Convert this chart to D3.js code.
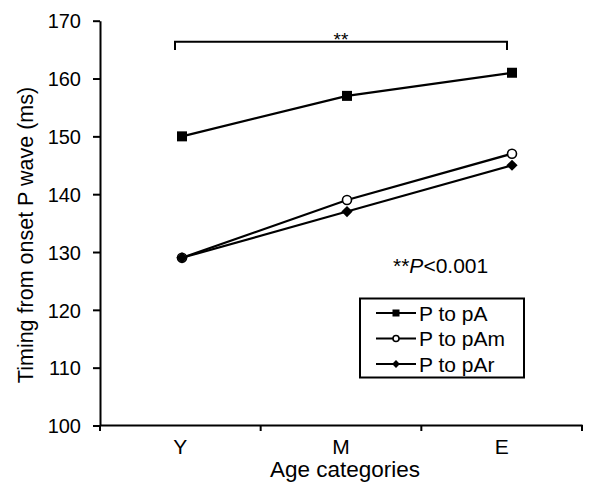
<!DOCTYPE html>
<html>
<head>
<meta charset="utf-8">
<script src="https://cdn.jsdelivr.net/npm/d3@7"></script>
<style>
	body { margin: 0; background: white; }
	text { font-family: "Liberation Sans", Arial, sans-serif; fill: black; }
</style>
</head>
<body>
<div></div>
<script>
var categories = ['Y', 'M', 'E'];
var series_names = ['P to pA', 'P to pAm', 'P to pAr'];
var p_to_pA = [150, 157, 161];
var p_to_pAm = [129, 139, 147];
var p_to_pAr = [129, 137, 145];
var y_ticks = [100, 110, 120, 130, 140, 150, 160, 170];

function draw_chart() {
	var width = 597;
	var height = 491;

	var svg = d3.select('div')
		.append('svg')
			.attr('width', width)
			.attr('height', height);

	// scales
	var y = d3.scaleLinear()
		.domain([100, 170])
		.range([425.5, 20.7]);
	var x_band = d3.scaleBand()
		.domain(categories)
		.range([100, 582]);
	var x = d3.scalePoint()
		.domain(categories)
		.range([182, 512]);

	// y axis
	var y_axis = svg.append('g')
		.attr('transform', 'translate(100,0)')
		.call(d3.axisLeft(y).tickValues(y_ticks).tickSize(7).tickPadding(12).tickSizeOuter(0));
	y_axis.select('.domain').attr('stroke-width', 2);
	y_axis.selectAll('.tick line').attr('stroke-width', 2);
	y_axis.selectAll('.tick text')
		.style('font-size', '20px')
		.attr('dy', '0.36em');

	// x axis (labels)
	var x_axis = svg.append('g')
		.attr('transform', 'translate(0,425)')
		.call(d3.axisBottom(x_band).tickSize(0).tickPadding(14));
	x_axis.select('.domain').attr('stroke-width', 2);
	x_axis.selectAll('.tick text')
		.style('font-size', '21px');

	// x axis ticks at category edges
	var edges = categories.map(function(d) { return x_band(d); }).concat([x_band.range()[1]]);
	svg.append('g')
		.selectAll('line')
		.data(edges)
		.enter()
		.append('line')
			.attr('x1', function(d) { return d; })
			.attr('x2', function(d) { return d; })
			.attr('y1', 425)
			.attr('y2', 431)
			.attr('stroke', 'black')
			.attr('stroke-width', 2);

	// axis labels
	svg.append('text')
		.attr('text-anchor', 'middle')
		.attr('x', 345)
		.attr('y', 477)
		.style('font-size', '22.5px')
		.text('Age categories');
	svg.append('text')
		.attr('text-anchor', 'middle')
		.attr('transform', 'translate(33,235) rotate(-90)')
		.style('font-size', '21.5px')
		.text('Timing from onset P wave (ms)');

	// lines
	var data = [p_to_pA, p_to_pAm, p_to_pAr];
	var line = d3.line()
		.x(function(d, i) { return x(categories[i]); })
		.y(function(d) { return y(d); });
	svg.append('g')
		.selectAll('path')
		.data(data)
		.enter()
		.append('path')
			.attr('d', line)
			.attr('fill', 'none')
			.attr('stroke', 'black')
			.attr('stroke-width', 2.2);

	// markers
	var draw_marker = function(g, type, cx, cy, s) {
		if (type == 0) {
			g.append('rect')
				.attr('x', cx - s / 2)
				.attr('y', cy - s / 2)
				.attr('width', s)
				.attr('height', s)
				.attr('fill', 'black');
		} else if (type == 1) {
			g.append('circle')
				.attr('cx', cx)
				.attr('cy', cy)
				.attr('r', s / 2)
				.attr('fill', 'white')
				.attr('stroke', 'black')
				.attr('stroke-width', 1.6);
		} else {
			g.append('path')
				.attr('d', d3.symbol(d3.symbolDiamond2, s * s * 0.8)())
				.attr('transform', 'translate(' + cx + ',' + cy + ')')
				.attr('fill', 'black');
		}
	};
	var marks = svg.append('g');
	// pAm first, then pAr over it, then pA
	[1, 2, 0].forEach(function(k) {
		data[k].forEach(function(v, i) {
			draw_marker(marks, k, x(categories[i]), y(v), k == 1 ? 9 : 10);
		});
	});

	// significance bracket
	var bx1 = x('Y') - 7;
	var bx2 = x('E') - 5;
	svg.append('path')
		.attr('d', 'M' + bx1 + ',50V41.7H' + bx2 + 'V50')
		.attr('fill', 'none')
		.attr('stroke', 'black')
		.attr('stroke-width', 2);
	svg.append('text')
		.attr('text-anchor', 'middle')
		.attr('x', (bx1 + bx2) / 2)
		.attr('y', 46)
		.style('font-size', '19px')
		.text('**');

	// p value note
	var note = svg.append('text')
		.attr('x', 393)
		.attr('y', 273)
		.style('font-size', '21px');
	note.append('tspan').text('**');
	note.append('tspan').style('font-style', 'italic').text('P');
	note.append('tspan').text('<0.001');

	// legend
	svg.append('rect')
		.attr('x', 360)
		.attr('y', 298.5)
		.attr('width', 164)
		.attr('height', 79)
		.attr('fill', 'white')
		.attr('stroke', 'black')
		.attr('stroke-width', 2);
	var legend = svg.append('g')
		.selectAll('g')
		.data(series_names)
		.enter()
		.append('g')
			.attr('transform', function(d, i) { return 'translate(0,' + (313 + i * 25.5) + ')'; });
	legend.append('line')
		.attr('x1', 376)
		.attr('x2', 416)
		.attr('stroke', 'black')
		.attr('stroke-width', 2);
	legend.each(function(d, i) {
		draw_marker(d3.select(this), i, 396, 0, i == 1 ? 6 : 7);
	});
	legend.append('text')
		.attr('x', 419)
		.attr('dy', '0.36em')
		.style('font-size', '21px')
		.text(function(d) { return d; });
}

draw_chart();
</script>
</body>
</html>
